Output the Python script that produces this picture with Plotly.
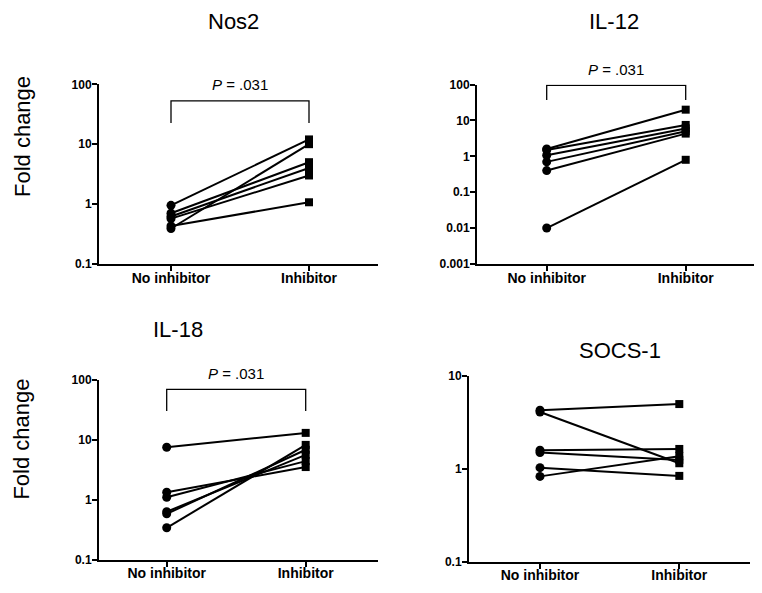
import math
import plotly.graph_objects as go

# page body has an 8px margin: figure origin sits at (8, 8) in the window
OFF = 8
W, H = 754, 585

categories = ["No inhibitor", "Inhibitor"]
panel_titles = ["Nos2", "IL-12", "IL-18", "SOCS-1"]

nos2_no = [0.95, 0.39, 0.70, 0.62, 0.57, 0.43]
nos2_inh = [12, 10, 5.0, 4.0, 3.0, 1.07]

il12_no = [1.6, 1.5, 1.07, 0.70, 0.40, 0.01]
il12_inh = [20, 7.5, 6.0, 5.0, 4.3, 0.8]

il18_no = [7.5, 1.33, 1.1, 0.63, 0.58, 0.34]
il18_inh = [13, 3.5, 4.4, 5.6, 6.8, 8.2]

socs_no = [4.3, 4.1, 1.59, 1.5, 1.03, 0.83]
socs_inh = [5.0, 1.15, 1.64, 1.25, 0.84, 1.37]

yticks_nos2 = [0.1, 1, 10, 100]
yticks_il12 = [0.001, 0.01, 0.1, 1, 10, 100]
yticks_il18 = [0.1, 1, 10, 100]
yticks_socs = [0.1, 1, 10]

p_labels = ["<i>P</i> = .031", "<i>P</i> = .031", "<i>P</i> = .031", None]
bracket_low = [22.6, 37, 30, None]
bracket_high = [53, 95, 69, None]

panels = [
    (nos2_no, nos2_inh, yticks_nos2),
    (il12_no, il12_inh, yticks_il12),
    (il18_no, il18_inh, yticks_il18),
    (socs_no, socs_inh, yticks_socs),
]

# window-pixel layout: (x0, x1, ytop, ybottom, cat0_px, cat1_px)
boxes = [
    (99, 378, 79, 263, 171, 309),
    (477, 755, 79.3, 263, 546.7, 685.7),
    (99, 378, 381.7, 566, 166.7, 305.7),
    (469, 750, 378, 568, 540, 679.3),
]
title_pos = [(233, 15), (614, 14.5), (178, 330), (620, 352)]
ylabel_pos = [(22, 133), (22, 443)]


def px(x):
    return (x - OFF) / W


def py(y):
    return 1 - (y - OFF) / H


FONT = "Liberation Sans, Arial, sans-serif"
fig = go.Figure()
layout = dict(width=W, height=H, margin=dict(l=0, r=0, t=0, b=0),
              paper_bgcolor="white", plot_bgcolor="white", showlegend=False,
              font=dict(family=FONT, color="black"))
annotations = []

for i, ((no, inh, yt), box) in enumerate(zip(panels, boxes)):
    n = i + 1
    xa = "x" if n == 1 else f"x{n}"
    ya = "y" if n == 1 else f"y{n}"
    x0, x1, yt_px, yb_px, c0, c1 = box
    unit = c1 - c0
    xr = [(x0 - c0) / unit, (x1 - c0) / unit]
    yr = [math.log10(yt[0]), math.log10(yt[-1])]
    for a, b in zip(no, inh):
        fig.add_trace(go.Scatter(x=[0, 1], y=[a, b], mode="lines",
                                 line=dict(color="black", width=2),
                                 xaxis=xa, yaxis=ya, hoverinfo="skip"))
    fig.add_trace(go.Scatter(x=[0] * len(no), y=no, mode="markers",
                             marker=dict(symbol="circle", size=9, color="black"),
                             xaxis=xa, yaxis=ya, cliponaxis=False))
    fig.add_trace(go.Scatter(x=[1] * len(inh), y=inh, mode="markers",
                             marker=dict(symbol="square", size=8, color="black"),
                             xaxis=xa, yaxis=ya, cliponaxis=False))
    if p_labels[i]:
        lo, hi = bracket_low[i], bracket_high[i]
        fig.add_trace(go.Scatter(x=[0, 0, 1, 1], y=[lo, hi, hi, lo], mode="lines",
                                 line=dict(color="black", width=1.3),
                                 xaxis=xa, yaxis=ya, hoverinfo="skip"))
        annotations.append(dict(x=0.5, y=math.log10(hi), xref=xa, yref=ya,
                                text=p_labels[i], showarrow=False,
                                yanchor="middle", yshift=16,
                                font=dict(size=15, family=FONT, color="black")))
    axkey = "xaxis" if n == 1 else f"xaxis{n}"
    aykey = "yaxis" if n == 1 else f"yaxis{n}"
    layout[axkey] = dict(domain=[px(x0), px(x1)], range=xr, anchor=ya,
                         tickvals=[0, 1], ticktext=categories,
                         showline=True, linecolor="black", linewidth=2,
                         ticks="outside", ticklen=5, tickwidth=2, tickcolor="black",
                         ticklabelstandoff=-5,
                         showgrid=False, zeroline=False,
                         tickfont=dict(size=14, family=FONT, color="black", weight=700))
    layout[aykey] = dict(domain=[py(yb_px), py(yt_px)], type="log", range=yr,
                         anchor=xa, tickvals=yt, ticktext=[f"{v:g}" for v in yt],
                         showline=True, linecolor="black", linewidth=2,
                         ticks="outside", ticklen=5, tickwidth=2, tickcolor="black",
                         ticklabelstandoff=-2,
                         showgrid=False, zeroline=False,
                         tickfont=dict(size=12, family=FONT, color="black", weight=700))
    tx, ty = title_pos[i]
    annotations.append(dict(x=px(tx), y=py(ty), xref="paper", yref="paper",
                            text=panel_titles[i], showarrow=False,
                            xanchor="center", yanchor="middle",
                            font=dict(size=22, family=FONT, color="black")))

for lx, ly in ylabel_pos:
    annotations.append(dict(x=px(lx), y=py(ly), xref="paper", yref="paper",
                            text="Fold change", showarrow=False, textangle=-90,
                            xanchor="center", yanchor="middle",
                            font=dict(size=22, family=FONT, color="black")))

layout["annotations"] = annotations
fig.update_layout(**layout)
fig.write_html("out.html")
